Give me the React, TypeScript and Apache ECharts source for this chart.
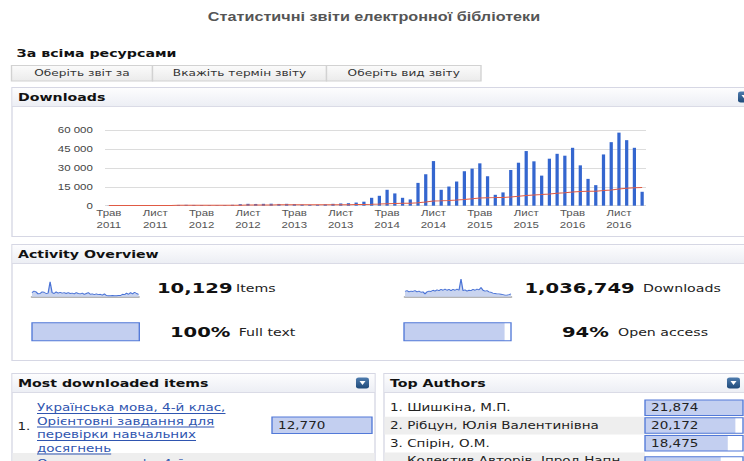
import React, { useEffect, useRef } from "react";
import * as echarts from "echarts";

// The reference is horizontally stretched: the chart is drawn at an inner
// width and stretched to 744px with a CSS transform.
const W = 551;
const H = 461;
const S = 744 / W;
const X = (x: number) => x / S;

// ---------------- data ----------------
const pageTitle = "Статистичні звіти електронної бібліотеки";
const sectionTitle = "За всіма ресурсами";
const buttons = ["Оберіть звіт за", "Вкажіть термін звіту", "Оберіть вид звіту"];

const monthAbbr = ["Січ", "Лют", "Бер", "Квіт", "Трав", "Черв", "Лип", "Серп", "Вер", "Жовт", "Лист", "Груд"];
const firstYear = 2011;
const firstMonthIndex = 4; // Трав

const monthlyDownloads = [
  100, 150, 150, 200, 250, 300, 350, 350, 400, 600, 700, 600,
  500, 450, 400, 500, 700, 1200, 1500, 1400, 1500, 1600, 1400, 1500,
  1300, 900, 700, 800, 1100, 1500, 1800, 2000, 2500, 3200,
  6300, 7900, 12700, 9800, 6300, 5000, 18200, 25100, 35600, 12700, 15300, 19300,
  27500, 29600, 33800, 23500, 8700, 10600, 28500, 34300, 43600, 35400, 24000, 37500,
  41400, 39900, 46200, 32200, 21400, 16400, 40900, 50700, 58300, 52300, 46200, 11100,
];
const averageDownloads = [
  100, 125, 133, 150, 170, 192, 214, 231, 250, 285,
  323, 346, 358, 364, 367, 375, 394, 439, 495, 540,
  586, 632, 665, 700, 724, 731, 730, 732, 745, 770,
  803, 840, 891, 959, 1111, 1300, 1608, 1824, 1938, 2015,
  2410, 2950, 3709, 3914, 4167, 4496, 4985, 5498, 6076, 6424,
  6469, 6548, 6962, 7469, 8125, 8613, 8882, 9376, 9919, 10418,
  11005, 11347, 11506, 11583, 12034, 12620, 13301, 13875, 14343, 14500,
];
const yMax = 60000;
const yStep = 15000;

const itemsSpark = [5, 7, 6, 3.5, 4, 6, 5.5, 4, 4.5, 18.6, 5, 4, 6, 4.5, 5.5, 4.5, 5, 4, 5, 4, 4.5, 3.5, 5, 4, 3.5, 4.5, 3, 4, 5, 3, 3.5, 2.5, 3.5, 2.5, 3, 2, 3.5, 1.5, 1.2, 1.2, 1.5, 1.2, 1.2, 1.5, 1.5, 3, 2.5, 4.5, 3, 5, 3.5, 5.5, 4, 3];
const downloadsSpark = [6.5, 7.5, 6, 7, 6.5, 7.5, 6, 7, 5.5, 6, 3.5, 6, 7, 6.5, 8, 7, 8.5, 7.5, 9, 8, 9.5, 8, 9, 7.5, 9, 8, 9.5, 8, 22, 7.5, 8.5, 7, 8, 7.5, 9, 8, 9.5, 8.5, 11.5, 8, 7, 7.5, 6, 5.5, 4.5, 4, 3.5, 3.5, 3, 2.5, 2, 2, 2.5, 3.5];
const sparkMax = 22;

const totalItems = 10129;
const totalDownloads = 1036749;
const fullTextPct = 100;
const openAccessPct = 94;

const topItemTitle = ["Українська мова, 4-й клас,", "Орієнтовні завдання для", "перевірки навчальних", "досягнень"];
const topItemCount = 12770;
const nextItemTitle = "Основи здоров'я, 4-й клас,";

const authorNames = ["Шишкіна, М.П.", "Рібцун, Юлія Валентинівна", "Спірін, О.М."];
const authorCounts = [21874, 20172, 18475];
const nextAuthorName = "Колектив Авторів, Іпрод Напн";
const nextAuthorCount = 16900;

// ---------------- helpers ----------------
const VB = "'DejaVu Sans', Verdana, sans-serif";
const AR = "'Liberation Sans', Arial, sans-serif";
const LINK = "#2f55b0";
const BOX_FILL = "#c3cff0";
const BOX_LINE = "#5279d8";

let measureCtx: CanvasRenderingContext2D | null = null;
function textWidth(t: string, font: string) {
  if (!measureCtx) measureCtx = document.createElement("canvas").getContext("2d");
  if (!measureCtx) return t.length * 6;
  measureCtx.font = font;
  return measureCtx.measureText(t).width;
}

function T(x: number, y: number, text: string, font: string, fill = "#222", align = "left") {
  return {
    type: "text",
    x: X(x),
    y,
    z: 20,
    style: { text, font, fill, align, verticalAlign: "middle", textAlign: align, textVerticalAlign: "middle" },
  };
}
function R(x1: number, y1: number, x2: number, y2: number, style: any, z = 0, r = 0) {
  return { type: "rect", z, shape: { x: X(x1), y: y1, width: X(x2) - X(x1), height: y2 - y1, r }, style };
}
function L(x1: number, y1: number, x2: number, y2: number, stroke: string, z = 1, lineWidth = 1) {
  return { type: "line", z, shape: { x1, y1, x2, y2 }, style: { stroke, lineWidth } };
}
const vgrad = (a: string, b: string) =>
  new echarts.graphic.LinearGradient(0, 0, 0, 1, [
    { offset: 0, color: a },
    { offset: 1, color: b },
  ]);

function panel(x1: number, y1: number, x2: number, y2: number, title: string) {
  return [
    R(x1, y1, x2, y2, { fill: "#fff", stroke: "#d6d7e4", lineWidth: 1 }, -10),
    R(x1 + 0.5, y1 + 0.5, x2 - 0.5, y1 + 19, { fill: vgrad("#fdfdfe", "#eceef4") }, -9),
    L(X(x1), y1 + 19, X(x2), y1 + 19, "#dadbe6", -8),
    T(x1 + 6, y1 + 10, title, `bold 10.5px ${VB}`, "#111"),
  ];
}
function dropIcon(x: number, y: number) {
  return [
    R(x, y, x + 13, y + 11, { fill: vgrad("#4f7cae", "#1f4a7a") }, 15, 2),
    {
      type: "polygon",
      z: 16,
      shape: { points: [[X(x + 3.5), y + 3.5], [X(x + 9.5), y + 3.5], [X(x + 6.5), y + 7.5]] },
      style: { fill: "#fff" },
    },
  ];
}
const frame = (x1: number, y1: number, x2: number, y2: number) =>
  R(x1, y1, x2, y2, { fill: "none", stroke: BOX_LINE, lineWidth: 1 }, 30);

const fmtComma = (v: number) => Number(v).toLocaleString("en-US");
const fmtSpace = (v: number) => String(v).replace(/\B(?=(\d{3})+(?!\d))/g, " ");

// author row geometry
const AUTH_TOP = 399;
const AUTH_BAND = 17.7;
const AUTH_BAR = 15.5;

function buildOption() {
  const monthLabels = monthlyDownloads.map((_, i) => {
    const k = firstMonthIndex + i;
    return monthAbbr[k % 12] + "\n" + (firstYear + Math.floor(k / 12));
  });

  const elements: any[] = [];
  elements.push(T(374, 16.5, pageTitle, `bold 12px ${AR}`, "#555", "center"));
  elements.push(T(16.6, 53, sectionTitle, `bold 10.5px ${VB}`, "#111"));

  const btnX = [11.5, 152.5, 326.5, 481];
  buttons.forEach((b, i) => {
    elements.push(R(btnX[i], 65.5, btnX[i + 1], 81, { fill: vgrad("#fbfbfb", "#ebebeb"), stroke: "#d2d2d2", lineWidth: 1 }, 1));
    elements.push(T((btnX[i] + btnX[i + 1]) / 2, 73.5, b, `9px ${VB}`, "#333", "center"));
  });

  elements.push(...panel(12, 87.5, 760, 236.5, "Downloads"));
  elements.push(...dropIcon(738, 91.5));
  elements.push(...panel(12, 244.5, 760, 360.5, "Activity Overview"));

  const big = `bold 14.5px ${VB}`;
  const small = `10.5px ${VB}`;
  elements.push(T(157, 287.5, fmtComma(totalItems), big, "#111"));
  elements.push(T(236, 288.5, "Items", small, "#222"));
  elements.push(T(524.5, 287.5, fmtComma(totalDownloads), big, "#111"));
  elements.push(T(643, 288.5, "Downloads", small, "#222"));
  elements.push(T(170, 331.5, fullTextPct + "%", big, "#111"));
  elements.push(T(238.7, 332.5, "Full text", small, "#222"));
  elements.push(T(562, 331.5, openAccessPct + "%", big, "#111"));
  elements.push(T(618, 332.5, "Open access", small, "#222"));
  elements.push(frame(32, 322.7, 139.3, 340.7));
  elements.push(frame(404, 322.7, 511, 340.7));

  // Most downloaded items
  elements.push(...panel(12, 373.5, 375, 480, "Most downloaded items"));
  elements.push(...dropIcon(356, 377.5));
  elements.push(R(12.5, 453, 374.5, 480, { fill: "#eeeeee" }, -5));
  elements.push(T(17.5, 427, "1.", `10px ${VB}`, "#222"));
  const linkFont = `10px ${VB}`;
  topItemTitle.forEach((line, i) => {
    const y = 408 + i * 13.5;
    elements.push(T(37, y, line, linkFont, LINK));
    const w = textWidth(line, linkFont);
    elements.push(L(X(37), y + 5.5, X(37) + w, y + 5.5, LINK, 20, 1));
  });
  elements.push(T(37, 463.5, nextItemTitle, linkFont, LINK));
  elements.push(frame(272, 417, 372, 433.5));

  // Top authors
  elements.push(...panel(384, 373.5, 760, 480, "Top Authors"));
  elements.push(...dropIcon(727, 377.5));
  elements.push(R(384.5, AUTH_TOP + AUTH_BAND, 760, AUTH_TOP + 2 * AUTH_BAND, { fill: "#eeeeee" }, -5));
  elements.push(R(384.5, 452.5, 760, 480, { fill: "#eeeeee" }, -5));
  authorCounts.forEach((_, i) => {
    const y = AUTH_TOP + AUTH_BAND * i + (AUTH_BAND - AUTH_BAR) / 2;
    elements.push(frame(645, y, 743, y + AUTH_BAR));
  });
  elements.push(T(407, 460.5, nextAuthorName, `10px ${VB}`, "#222"));
  elements.push(frame(645, 456.7, 743, 472.2));

  const hiddenCat = (gridIndex: number, name: string) => ({ gridIndex, type: "category", data: [name], show: false });
  const hiddenVal = (gridIndex: number, max: number) => ({ gridIndex, type: "value", min: 0, max, show: false });
  const boxLabel = {
    show: true,
    position: "insideLeft",
    distance: 4.5,
    color: "#222",
    fontSize: 10,
    fontFamily: VB,
    formatter: (p: any) => fmtComma(p.value),
  };

  return {
    animation: false,
    backgroundColor: "#ffffff",
    grid: [
      { left: X(105), right: W - X(646), top: 130.5, bottom: H - 205.7 },
      { left: X(32), width: X(138.6) - X(32), top: 279, height: 17.7 },
      { left: X(405), width: X(511) - X(405), top: 279, height: 17.7 },
      { left: X(32), width: X(139.3) - X(32), top: 322.7, height: 18 },
      { left: X(404), width: X(511) - X(404), top: 322.7, height: 18 },
      { left: X(272), width: X(372) - X(272), top: 417, height: 16.5 },
      { left: X(645), width: X(743) - X(645), top: AUTH_TOP, height: AUTH_BAND * authorNames.length },
      { left: X(645), width: X(743) - X(645), top: 456.7, height: 15.5 },
    ],
    xAxis: [
      {
        gridIndex: 0,
        type: "category",
        data: monthLabels,
        boundaryGap: true,
        axisLine: { show: false },
        axisTick: { show: false },
        axisLabel: { interval: 5, color: "#555", fontSize: 8.5, fontFamily: AR, lineHeight: 12, margin: 1.5 },
      },
      {
        gridIndex: 1,
        type: "category",
        data: itemsSpark.map((_, i) => i),
        boundaryGap: false,
        axisLine: { show: true, lineStyle: { color: "#b4b4b4", width: 2 } },
        axisTick: { show: false },
        axisLabel: { show: false },
      },
      {
        gridIndex: 2,
        type: "category",
        data: downloadsSpark.map((_, i) => i),
        boundaryGap: false,
        axisLine: { show: true, lineStyle: { color: "#b4b4b4", width: 2 } },
        axisTick: { show: false },
        axisLabel: { show: false },
      },
      hiddenVal(3, 100),
      hiddenVal(4, 100),
      hiddenVal(5, topItemCount),
      hiddenVal(6, authorCounts[0]),
      hiddenVal(7, authorCounts[0]),
    ],
    yAxis: [
      {
        gridIndex: 0,
        type: "value",
        min: 0,
        max: yMax,
        interval: yStep,
        axisLine: { show: false },
        axisTick: { show: false },
        splitLine: { lineStyle: { color: "#dcdcdc", width: 1 } },
        axisLabel: { color: "#444", fontSize: 8.5, fontFamily: AR, margin: 9, formatter: fmtSpace },
      },
      { gridIndex: 1, type: "value", min: 0, max: sparkMax, show: false },
      { gridIndex: 2, type: "value", min: 0, max: sparkMax, show: false },
      hiddenCat(3, "Full text"),
      hiddenCat(4, "Open access"),
      hiddenCat(5, "1"),
      {
        gridIndex: 6,
        type: "category",
        inverse: true,
        data: authorNames,
        axisLine: { show: false },
        axisTick: { show: false },
        axisLabel: {
          interval: 0,
          margin: X(645) - X(390),
          align: "left",
          color: "#222",
          fontSize: 10,
          fontFamily: VB,
          formatter: (v: string, i: number) => `${i + 1}. ${v}`,
        },
      },
      hiddenCat(7, nextAuthorName),
    ],
    series: [
      {
        type: "bar",
        xAxisIndex: 0,
        yAxisIndex: 0,
        data: monthlyDownloads,
        barWidth: "42%",
        itemStyle: { color: "#3466cf" },
        z: 2,
      },
      {
        type: "line",
        xAxisIndex: 0,
        yAxisIndex: 0,
        data: averageDownloads,
        symbol: "none",
        lineStyle: { color: "#e05a44", width: 1 },
        z: 3,
      },
      {
        type: "line",
        xAxisIndex: 1,
        yAxisIndex: 1,
        data: itemsSpark,
        symbol: "none",
        lineStyle: { color: "#4a73d6", width: 0.9 },
        areaStyle: { color: "#c9d4ef", opacity: 1 },
      },
      {
        type: "line",
        xAxisIndex: 2,
        yAxisIndex: 2,
        data: downloadsSpark,
        symbol: "none",
        lineStyle: { color: "#4a73d6", width: 0.9 },
        areaStyle: { color: "#c9d4ef", opacity: 1 },
      },
      {
        type: "bar",
        xAxisIndex: 3,
        yAxisIndex: 3,
        data: [fullTextPct],
        barWidth: 18,
        itemStyle: { color: BOX_FILL },
        showBackground: true,
        backgroundStyle: { color: "#fff" },
      },
      {
        type: "bar",
        xAxisIndex: 4,
        yAxisIndex: 4,
        data: [openAccessPct],
        barWidth: 18,
        itemStyle: { color: BOX_FILL },
        showBackground: true,
        backgroundStyle: { color: "#fff" },
      },
      {
        type: "bar",
        xAxisIndex: 5,
        yAxisIndex: 5,
        data: [topItemCount],
        barWidth: 16.5,
        itemStyle: { color: BOX_FILL },
        showBackground: true,
        backgroundStyle: { color: "#fff" },
        label: boxLabel,
      },
      {
        type: "bar",
        xAxisIndex: 6,
        yAxisIndex: 6,
        data: authorCounts,
        barWidth: AUTH_BAR,
        itemStyle: { color: BOX_FILL },
        showBackground: true,
        backgroundStyle: { color: "#fff" },
        label: boxLabel,
      },
      {
        type: "bar",
        xAxisIndex: 7,
        yAxisIndex: 7,
        data: [nextAuthorCount],
        barWidth: 15.5,
        itemStyle: { color: BOX_FILL },
        showBackground: true,
        backgroundStyle: { color: "#fff" },
      },
    ],
    graphic: { elements },
  };
}

export default function App() {
  const ref = useRef<HTMLDivElement>(null);
  useEffect(() => {
    const el = ref.current;
    if (!el) return;
    const chart = echarts.init(el, undefined, { renderer: "svg" });
    chart.setOption(buildOption() as any);
    return () => chart.dispose();
  }, []);
  return (
    <div
      ref={ref}
      style={{
        position: "absolute",
        left: 0,
        top: 0,
        width: W,
        height: H,
        transform: `scaleX(${S})`,
        transformOrigin: "0 0",
        background: "#fff",
        overflow: "hidden",
      }}
    />
  );
}
